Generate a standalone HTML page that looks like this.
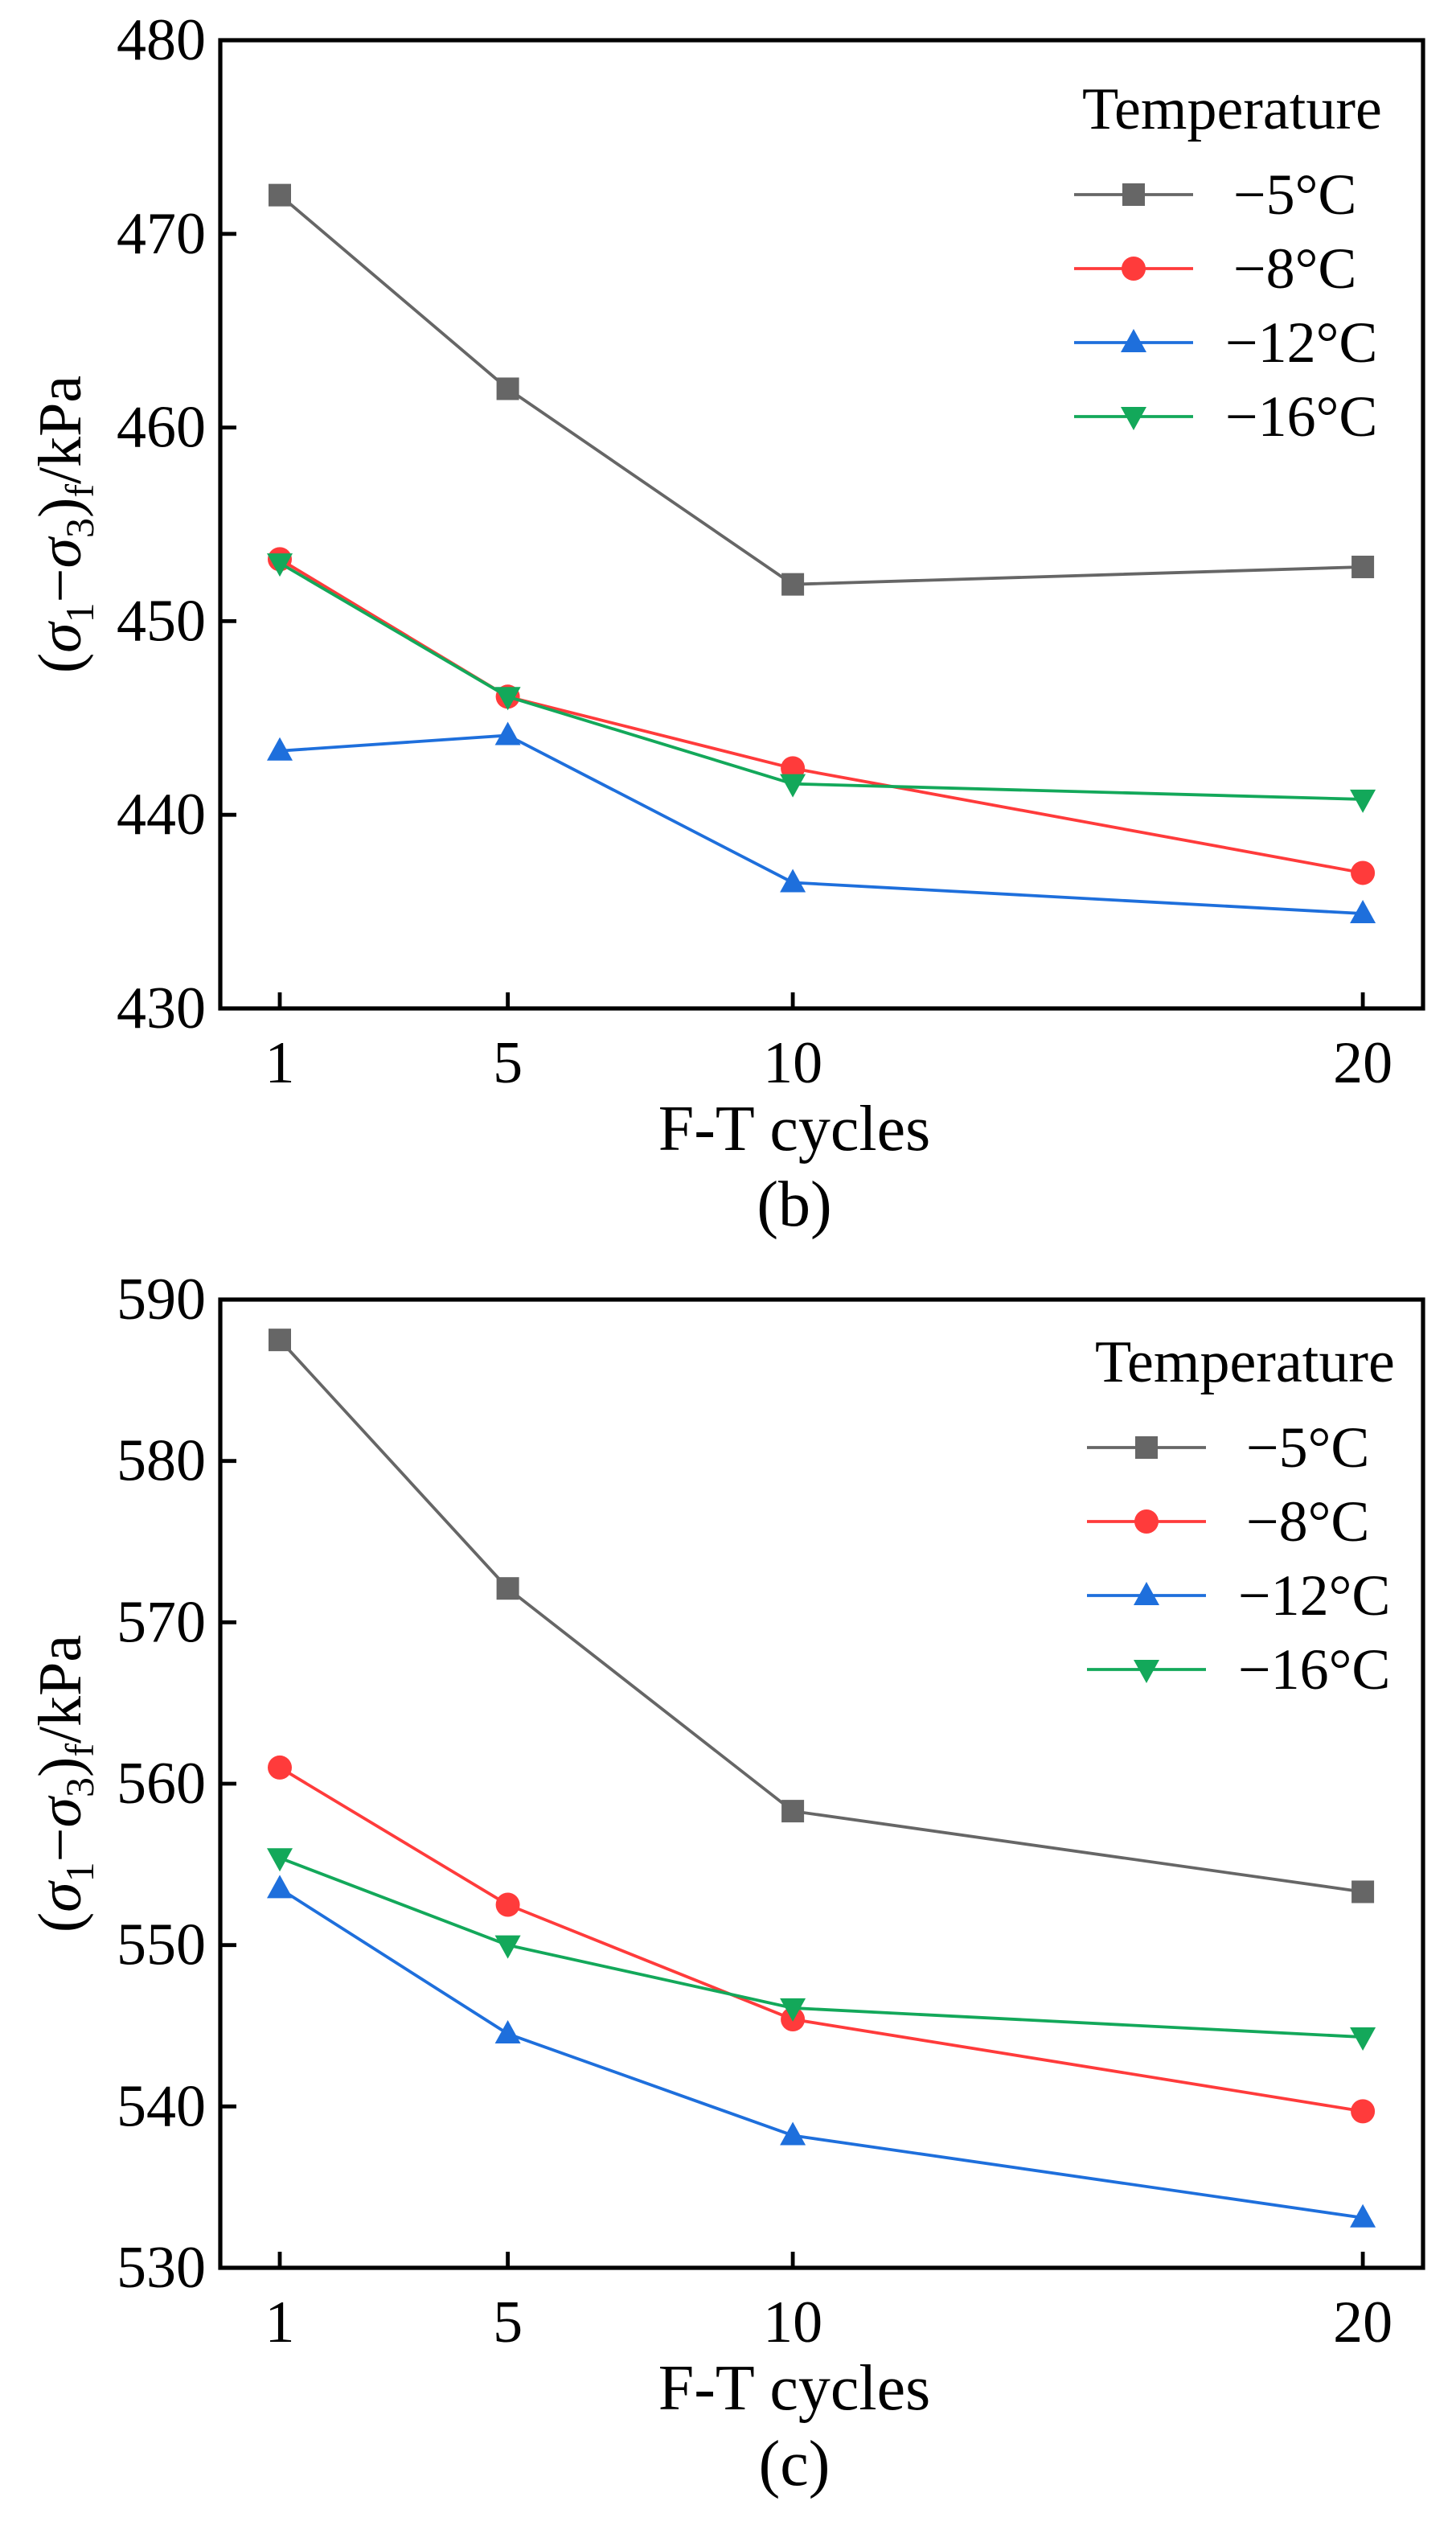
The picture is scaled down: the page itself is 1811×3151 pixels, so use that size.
<!DOCTYPE html>
<html><head><meta charset="utf-8"><style>
html,body{margin:0;padding:0;background:#fff}
svg{display:block}
text{font-family:"Liberation Serif","DejaVu Serif",serif;fill:#000}
</style></head><body>
<svg id="fig" width="1811" height="3151" viewBox="0 0 905.5 1575.5" xmlns="http://www.w3.org/2000/svg"></svg>
<script>
const xCats = [1, 5, 10, 20];
const seriesNames = ["\u22125\u00B0C", "\u22128\u00B0C", "\u221212\u00B0C", "\u221216\u00B0C"];
const seriesColors = ["#666666", "#ff3b3b", "#1e6fdc", "#13a85a"];
const seriesMarkers = ["square", "circle", "up", "down"];
const bVals5 = [472, 462, 451.9, 452.8];
const bVals8 = [453.2, 446.1, 442.4, 437.0];
const bVals12 = [443.3, 444.1, 436.5, 434.9];
const bVals16 = [453.0, 446.1, 441.6, 440.8];
const cVals5 = [587.5, 572.1, 558.3, 553.3];
const cVals8 = [561.0, 552.5, 545.4, 539.7];
const cVals12 = [553.5, 544.5, 538.2, 533.1];
const cVals16 = [555.4, 550.0, 546.1, 544.3];
const bTicks = [430, 440, 450, 460, 470, 480];
const cTicks = [530, 540, 550, 560, 570, 580, 590];

const NS = "http://www.w3.org/2000/svg";
const svg = document.getElementById("fig");
function mk(tag, attrs, parent) {
  const e = document.createElementNS(NS, tag);
  for (const k in attrs) e.setAttribute(k, attrs[k]);
  (parent || svg).appendChild(e);
  return e;
}
function marker(g, type, x, y, color) {
  let m;
  const s = 7;
  if (type === "square") m = mk("rect", {x: x - s, y: y - s, width: 2 * s, height: 2 * s, fill: color}, g);
  else if (type === "circle") m = mk("circle", {cx: x, cy: y, r: 7.5, fill: color}, g);
  else if (type === "up") m = mk("polygon", {points: `${x},${y - 8.5} ${x - 8},${y + 6} ${x + 8},${y + 6}`, fill: color}, g);
  else m = mk("polygon", {points: `${x},${y + 8.5} ${x - 8},${y - 6} ${x + 8},${y - 6}`, fill: color}, g);
  
  
  return m;
}
function chart(id, top, bottom, ymin, ymax, ticks, vals, caption, leg) {
  const L = 137, R = 885;
  const g = mk("g", {});
  
  
  const xs = v => 174 + (v - 1) * 35.45;
  const ys = v => bottom - (v - ymin) / (ymax - ymin) * (bottom - top);
  const frame = mk("rect", {x: L, y: top, width: R - L, height: bottom - top, fill: "none", stroke: "#000", "stroke-width": 2.6}, g);
  
  
  ticks.forEach(t => {
    const y = ys(t);
    const tk = mk("line", {x1: L, x2: L + 10, y1: y, y2: y, stroke: "#000", "stroke-width": 2.4}, g);
    
    
    const tl = mk("text", {x: L - 9, y: y + 12, "text-anchor": "end", "font-size": 37}, g);
    tl.textContent = t;
    
    
  });
  xCats.forEach(c => {
    const x = xs(c);
    const tk = mk("line", {x1: x, x2: x, y1: bottom, y2: bottom - 10, stroke: "#000", "stroke-width": 2.4}, g);
    
    
    const tl = mk("text", {x: x, y: bottom + 46, "text-anchor": "middle", "font-size": 37}, g);
    tl.textContent = c;
    
    
  });
  const xt = mk("text", {x: 494, y: bottom + 88, "text-anchor": "middle", "font-size": 40}, g);
  xt.textContent = "F-T cycles";
  
  
  const cp = mk("text", {x: 494, y: bottom + 135, "text-anchor": "middle", "font-size": 40}, g);
  cp.textContent = caption;
  
  
  const cy = (top + bottom) / 2;
  const yt = mk("text", {x: 0, y: 0, "text-anchor": "middle", "font-size": 38, transform: `translate(50 ${cy}) rotate(-90)`}, g);
  yt.innerHTML = '(<tspan font-style="italic">σ</tspan><tspan font-size="25" dy="8">1</tspan><tspan dy="-8">−</tspan><tspan font-style="italic">σ</tspan><tspan font-size="25" dy="8">3</tspan><tspan dy="-8">)</tspan><tspan font-size="25" dy="8">f</tspan><tspan dy="-8">/kPa</tspan>';
  
  
  vals.forEach((arr, i) => {
    const pts = arr.map((v, j) => xs(xCats[j]) + "," + ys(v)).join(" ");
    const pl = mk("polyline", {points: pts, fill: "none", stroke: seriesColors[i], "stroke-width": 1.9}, g);
    
    
    arr.forEach((v, j) => marker(g, seriesMarkers[i], xs(xCats[j]), ys(v), seriesColors[i]));
  });
  const lg = mk("g", {}, g);
  
  
  const lt = mk("text", {x: leg.x + 5, y: leg.y + 1, "font-size": 37}, lg);
  lt.textContent = "Temperature";
  
  
  seriesNames.forEach((n, i) => {
    const y = leg.y + 42 + i * 46;
    const ln = mk("line", {x1: leg.x, x2: leg.x + 74, y1: y, y2: y, stroke: seriesColors[i], "stroke-width": 1.9}, lg);
    
    
    marker(lg, seriesMarkers[i], leg.x + 37, y, seriesColors[i]);
    const t = mk("text", {x: leg.x + (i < 2 ? 99 : 94), y: y + 12, "font-size": 36}, lg);
    t.textContent = n;
    
    
  });
}
chart("b", 25, 627, 430, 480, bTicks, [bVals5, bVals8, bVals12, bVals16], "(b)", {x: 668, y: 79});
chart("c", 808, 1410, 530, 590, cTicks, [cVals5, cVals8, cVals12, cVals16], "(c)", {x: 676, y: 858});
</script>
</body></html>
